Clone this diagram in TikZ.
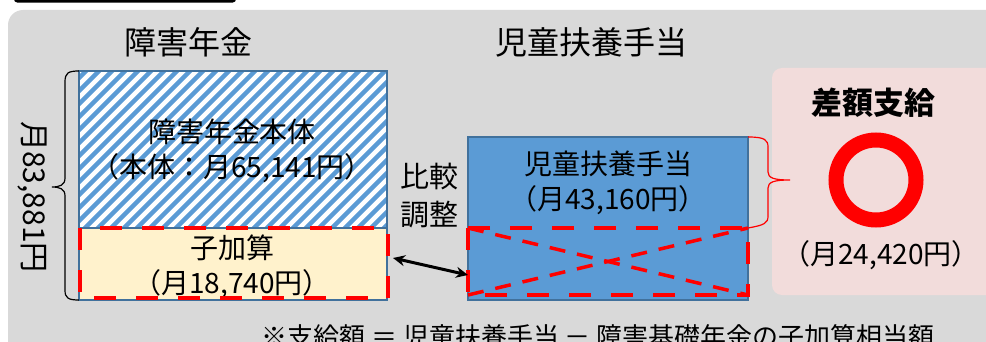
\documentclass[tikz,border=0pt]{standalone}
\usepackage{fontspec}
\setmainfont{Noto Sans CJK JP}
\usetikzlibrary{arrows.meta,calc}
\definecolor{bggray}{HTML}{D9D9D9}
\definecolor{bluefill}{HTML}{5B9BD5}
\definecolor{blueedge}{HTML}{41719C}
\definecolor{pinkfill}{HTML}{F2DCDB}
\definecolor{yellowfill}{HTML}{FFF2CC}
\definecolor{redline}{HTML}{FF0000}
\tikzset{
  boxshape/.style={draw=blueedge, line width=1.5pt, minimum width=#1, inner sep=0pt, outer sep=0pt},
  reddash/.style={draw=redline, line width=4pt, dash pattern=on 22pt off 20pt},
  redx/.style={draw=redline, line width=3.5pt, dash pattern=on 16pt off 12pt},
  txt/.style={font=\fontsize{28}{35}\selectfont, align=center, inner sep=0pt},
  bigtxt/.style={font=\fontsize{32}{36}\selectfont, inner sep=0pt},
}
\begin{document}
\begin{tikzpicture}[x=1pt,y=-1pt]
\useasboundingbox (0,0) rectangle (986,342);
\clip (0,0) rectangle (986,342);
% top black frame remnant
\draw[line width=2.5pt, rounded corners=3pt] (15,-20) rectangle (235,1.5);
% gray background
\fill[bggray, rounded corners=15pt] (8,10) rectangle (1010,380);
% titles
\node[bigtxt] (t1) at (188,42) {障害年金};
\node[bigtxt] (t2) at (591,42) {児童扶養手当};
% pink box
\fill[pinkfill, rounded corners=10pt] (772,68) rectangle (1000,295);
% hontai box with hatching
\node[boxshape=308pt, minimum height=157pt, fill=white] (hontai) at (233,149.5) {};
\begin{scope}
  \clip (hontai.south west) rectangle (hontai.north east);
  \foreach \i in {-180,-167,...,320}
    \draw[bluefill, line width=4.5pt] (79+\i,232) -- ++(170,-170);
\end{scope}
\draw[blueedge, line width=1.5pt] (hontai.south west) rectangle (hontai.north east);
\node[txt] (hontaitxt) at (232,150.5) {障害年金本体\\（本体：月65,141円）};
% kasan box
\node[boxshape=308pt, minimum height=72pt, fill=yellowfill] (kasan) at (233,264) {};
\node[txt] (kasantxt) at (232,266.5) {子加算\\（月18,740円）};
\draw[reddash] (80,228) rectangle (388,298);
% blue box
\node[boxshape=280pt, minimum height=163pt, fill=bluefill] (jido) at (608,218.5) {};
\node[txt] (jidotxt) at (608,182.5) {児童扶養手当\\（月43,160円）};
\node[minimum width=280pt, minimum height=67pt, inner sep=0pt, outer sep=0pt] (xbox) at (608,261.5) {};
\draw[reddash] (xbox.north west) rectangle (xbox.south east);
\draw[redx] (xbox.north west) -- (xbox.south east);
\draw[redx] (xbox.south west) -- (xbox.north east);
% compare text
\node[txt, font=\fontsize{29}{38}\selectfont] (hikaku) at (429,196) {比較\\調整};
% double arrow
\draw[line width=3pt, {Stealth[length=12pt,width=11pt]}-{Stealth[length=12pt,width=11pt]}]
  ($(kasan.east)+(6,-6)$) -- ($(xbox.west)+(0,13.5)$);
% left brace
\coordinate (lbtip) at (52,187);
\draw[line width=1.2pt] (hontai.north west) .. controls (68,71) and (65,73) .. (65,82)
  -- (65,178) .. controls (65,185) and (60,187) .. (lbtip)
  .. controls (60,187) and (65,189) .. (65,196) -- (65,290)
  .. controls (65,298) and (68,300) .. (kasan.south west);
\node[txt, font=\fontsize{30}{35}\selectfont, rotate=-90] (total) at (32,197) {月83,881円};
% right red brace
\coordinate (rbtip) at (790,180);
\draw[redline, line width=1.2pt] (jido.north east) .. controls (765,137) and (768,140) .. (768,147)
  -- (768,172) .. controls (768,178) and (774,180) .. (rbtip)
  .. controls (774,180) and (768,182) .. (768,188) -- (768,216)
  .. controls (768,223) and (765,225) .. (xbox.north east);
% pink contents
\node[inner sep=0pt, font=\fontsize{31}{36}\selectfont\bfseries] (sagaku) at (873,103) {差額支給};
\node[circle, draw=redline, line width=15pt, minimum size=80pt, inner sep=0pt] (ring) at (876,180) {};
\node[txt] (amount) at (881,255) {（月24,420円）};
% bottom note
\node[font=\fontsize{26}{30}\selectfont, inner sep=0pt] (note) at (598,337) {※支給額 ＝ 児童扶養手当 － 障害基礎年金の子加算相当額};
\end{tikzpicture}
\end{document}
